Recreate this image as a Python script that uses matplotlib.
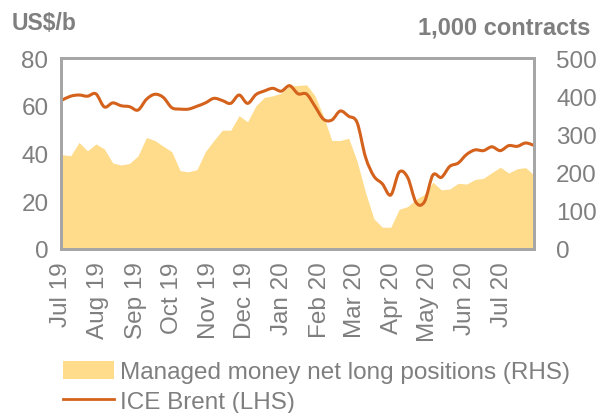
import numpy as np
import pandas as pd
import matplotlib
matplotlib.use("Agg")
import matplotlib.pyplot as plt
import matplotlib.dates as mdates
from matplotlib.path import Path
from matplotlib.patches import PathPatch, Patch
from matplotlib.lines import Line2D

plt.rcParams['font.family'] = ['Liberation Sans', 'DejaVu Sans']

# Weekly observations (Tuesdays)
dates = pd.date_range('2019-07-02', periods=57, freq='7D')

# Managed money net long positions, 1,000 contracts (RHS)
mm_net_long = [247, 244, 279, 257, 275, 262, 225, 220, 224, 244,
               292, 284, 269, 255, 205, 202, 208, 255, 284, 311,
               311, 349, 333, 375, 397, 401, 408, 427, 428, 430,
               401, 349, 284, 284, 290, 230, 148, 79, 57, 57,
               104, 111, 130, 143, 175, 155, 157, 172, 170, 182,
               185, 200, 214, 199, 210, 213, 194]

# ICE Brent, US$/b (LHS)
brent = [62.4, 64.0, 64.5, 64.0, 65.0, 59.5, 61.2, 60.0, 59.6, 58.2,
         62.7, 64.8, 63.5, 59.2, 58.6, 58.6, 59.8, 61.2, 63.1, 62.2,
         61.0, 64.5, 61.0, 64.7, 66.2, 67.3, 66.1, 68.4, 65.0, 64.9,
         59.8, 54.4, 54.0, 57.8, 55.6, 53.0, 38.5, 30.5, 27.3, 22.6,
         32.2, 30.0, 19.5, 19.8, 31.0, 30.0, 34.6, 36.0, 39.6, 41.5,
         41.2, 42.8, 41.2, 43.3, 43.0, 44.4, 43.4]

tick_months = pd.date_range('2019-07-01', '2020-07-01', freq='MS')
tick_labels = [d.strftime('%b %y') for d in tick_months]

left_ticks = [0, 20, 40, 60, 80]
right_ticks = [0, 100, 200, 300, 400, 500]

area_color = '#FEDC8C'
line_color = '#D4621C'
grey = '#7F7F7F'
spine_grey = '#A6A6A6'

fig = plt.figure(figsize=(6.03, 4.14), dpi=100)
ax1 = fig.add_axes([61/603, 1-250/414, (534-61)/603, (250-59)/414])
ax2 = ax1.twinx()

x = mdates.date2num(dates)
ax2.fill_between(x, 0, mm_net_long, color=area_color, linewidth=0)

# smoothed line (Catmull-Rom -> cubic Bezier, like Excel smoothing)
y = np.asarray(brent, dtype=float)
verts = [(x[0], y[0])]
codes = [Path.MOVETO]
n = len(x)
for i in range(n - 1):
    p0 = (x[max(i-1, 0)], y[max(i-1, 0)])
    p1 = (x[i], y[i])
    p2 = (x[i+1], y[i+1])
    p3 = (x[min(i+2, n-1)], y[min(i+2, n-1)])
    c1 = (p1[0] + (p2[0]-p0[0])/6, p1[1] + (p2[1]-p0[1])/6)
    c2 = (p2[0] - (p3[0]-p1[0])/6, p2[1] - (p3[1]-p1[1])/6)
    verts += [c1, c2, p2]
    codes += [Path.CURVE4]*3
ax1.add_patch(PathPatch(Path(verts, codes), fill=False, edgecolor=line_color,
                        linewidth=2.2, capstyle='round', joinstyle='round'))

ax1.set_zorder(ax2.get_zorder() + 1)
ax1.patch.set_visible(False)

ax1.set_xlim(x[0], x[-1])
ax1.set_ylim(0, 80)
ax2.set_ylim(0, 500)
ax1.set_yticks(left_ticks)
ax2.set_yticks(right_ticks)
ax1.set_xticks(mdates.date2num(tick_months))
ax1.set_xticklabels(tick_labels, rotation=90)

for ax in (ax1, ax2):
    for s in ax.spines.values():
        s.set_color(spine_grey)
        s.set_linewidth(2)
    ax.tick_params(length=0, colors=grey, labelsize=17.5)
ax1.tick_params(axis='y', pad=9)
ax1.tick_params(axis='x', pad=9)
ax2.tick_params(axis='y', pad=16)

fig.text(12/603, 1-24/414, 'US$/b', color=grey, fontsize=16.5,
         fontweight='bold', va='center', ha='left')
fig.text(590/603, 1-28/414, '1,000 contracts', color=grey, fontsize=17,
         fontweight='bold', va='center', ha='right')

handles = [Patch(facecolor=area_color, edgecolor='none'),
           Line2D([0], [0], color=line_color, linewidth=2)]
labels = ['Managed money net long positions (RHS)', 'ICE Brent (LHS)']
leg = fig.legend(handles, labels, loc='upper left',
                 bbox_to_anchor=(63/603, 1-362/414), frameon=False,
                 fontsize=17.5, labelcolor=grey, handlelength=2.1,
                 handleheight=0.75, handletextpad=0.25, labelspacing=0.28,
                 borderaxespad=0, borderpad=0)

fig.savefig('out.png', dpi=100)
